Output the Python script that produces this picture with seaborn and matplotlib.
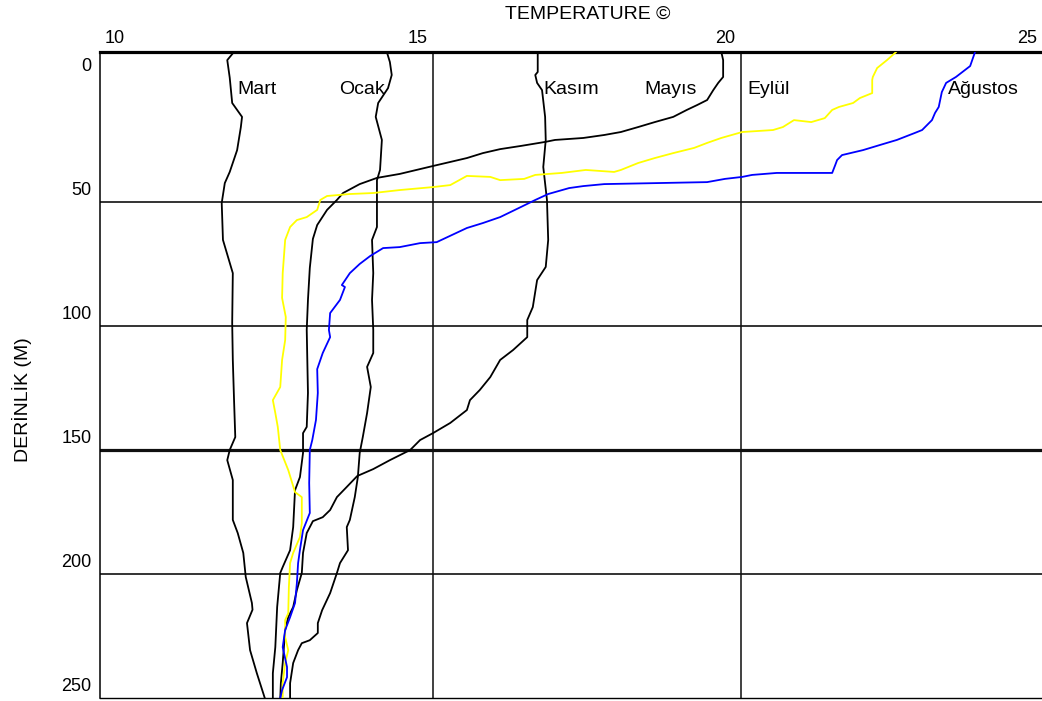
import numpy as np
import pandas as pd
import matplotlib
matplotlib.use("Agg")
import matplotlib.pyplot as plt
import matplotlib.transforms as mtransforms
import seaborn as sns

# ---------------- data (temperature °C, depth m) ----------------
mart_t = [11.77, 11.66, 11.70, 11.74, 11.90, 11.88, 11.82, 11.70, 11.62, 11.57, 11.59, 11.75, 11.74,
          11.75, 11.77, 11.79, 11.70, 11.66, 11.75, 11.75, 11.83, 11.92, 11.96, 12.06, 12.07, 11.98,
          12.03, 12.14, 12.27]
mart_d = [-10.4, -7.1, 0.0, 10.2, 15.8, 20.0, 29.2, 38.0, 42.5, 50.5, 65.4, 78.8, 98.9,
          113.8, 129.9, 144.9, 150.1, 154.2, 162.2, 178.3, 183.6, 191.6, 201.3, 211.8, 214.5, 219.9,
          230.8, 240.1, 250.2]

ocak_t = [14.25, 14.30, 14.33, 14.27, 14.11, 14.07, 14.17, 14.14, 14.09, 14.09, 14.01, 14.03, 14.01,
          14.03, 14.03, 13.93, 13.99, 13.93, 13.86, 13.81, 13.78, 13.73, 13.65, 13.60, 13.62, 13.49,
          13.44, 13.33, 13.20, 13.13, 13.13, 13.00, 12.87, 12.81, 12.73, 12.68, 12.68]
ocak_d = [-10.4, -6.3, -1.1, 4.2, 10.2, 15.8, 25.1, 37.2, 41.3, 60.2, 65.4, 78.8, 89.6,
          101.7, 111.0, 116.6, 124.7, 135.2, 144.9, 151.3, 161.0, 169.1, 178.3, 181.2, 190.5, 195.7,
          199.7, 207.8, 214.7, 219.9, 223.9, 226.8, 228.0, 230.8, 236.0, 244.1, 250.2]

kasim_t = [16.70, 16.70, 16.66, 16.69, 16.77, 16.82, 16.83, 16.79, 16.85, 16.87, 16.83, 16.69, 16.62,
           16.53, 16.53, 16.30, 16.09, 15.93, 15.76, 15.60, 15.55, 15.28, 15.00, 14.79, 14.63, 14.30,
           14.03, 13.77, 13.60, 13.44, 13.33, 13.21, 13.05, 12.95, 12.89, 12.87, 12.79, 12.73, 12.65,
           12.60, 12.56, 12.53, 12.52]
kasim_d = [-10.4, -2.3, -1.1, 2.1, 5.0, 15.8, 25.1, 36.0, 49.3, 65.4, 76.3, 81.6, 92.5,
           97.7, 104.6, 109.8, 113.8, 120.7, 125.9, 130.0, 134.0, 139.2, 143.3, 146.1, 150.1, 154.2,
           157.8, 160.6, 165.0, 169.1, 174.3, 177.2, 178.8, 183.6, 191.6, 199.7, 206.6, 213.4, 217.5,
           222.7, 236.0, 244.1, 250.2]

mayis_t = [19.68, 19.71, 19.71, 19.63, 19.55, 19.45, 19.29, 19.12, 18.90, 18.60, 18.33, 18.05, 17.78,
           17.44, 16.98, 16.82, 16.43, 16.09, 15.81, 15.55, 15.00, 14.46, 14.09, 13.81, 13.54, 13.44,
           13.28, 13.12, 13.05, 13.00, 12.97, 12.95, 12.97, 12.95, 12.89, 12.89, 12.84, 12.76, 12.73,
           12.68, 12.56, 12.52, 12.47, 12.44, 12.40, 12.40]
mayis_d = [-10.4, -7.1, -0.3, 2.1, 5.0, 9.0, 11.0, 13.0, 15.8, 17.9, 19.9, 21.9, 23.1,
           24.3, 25.1, 25.9, 27.5, 28.8, 30.4, 32.4, 35.6, 38.8, 40.4, 42.9, 46.5, 49.3,
           53.3, 59.4, 65.0, 76.7, 89.6, 101.7, 127.1, 140.8, 143.3, 151.3, 161.0, 166.3, 181.2,
           190.5, 197.3, 199.7, 213.4, 229.6, 240.1, 250.2]

eylul_t = [22.52, 22.37, 22.21, 22.14, 22.13, 22.13, 21.93, 21.82, 21.59, 21.48, 21.36, 21.14, 20.86,
           20.68, 20.52, 20.02, 19.68, 19.45, 19.24, 18.90, 18.60, 18.33, 18.05, 17.94, 17.48, 17.09,
           16.66, 16.48, 16.09, 15.93, 15.55, 15.28, 15.00, 14.46, 14.03, 13.65, 13.28, 13.17, 13.12,
           12.95, 12.79, 12.68, 12.60, 12.56, 12.55, 12.61, 12.60, 12.55, 12.52, 12.40, 12.44, 12.48,
           12.52, 12.65, 12.76, 12.87, 12.87, 12.84, 12.73, 12.68, 12.66, 12.65, 12.60, 12.60, 12.65,
           12.60, 12.56, 12.56]
eylul_d = [-10.4, -7.1, -3.9, -0.3, 0.9, 6.2, 8.2, 10.2, 11.8, 13.0, 16.3, 17.9, 17.1,
           19.9, 21.1, 21.9, 24.3, 26.3, 28.3, 30.4, 32.4, 34.4, 37.2, 38.0, 37.2, 38.4,
           39.2, 40.8, 41.3, 40.0, 39.6, 43.3, 44.1, 45.3, 46.5, 46.9, 47.7, 49.3, 53.3,
           56.2, 57.4, 60.2, 65.4, 78.8, 88.8, 96.5, 105.8, 113.8, 124.7, 130.0, 135.2, 140.8,
           150.1, 158.2, 167.1, 169.1, 179.6, 185.2, 191.6, 195.7, 205.4, 215.9, 218.7, 225.6, 230.8,
           236.0, 244.1, 250.2]

agustos_t = [23.80, 23.72, 23.49, 23.33, 23.26, 23.21, 23.15, 23.10, 22.94, 22.82, 22.53, 22.26, 21.98,
             21.64, 21.56, 21.53, 21.48, 21.14, 20.58, 20.18, 20.02, 19.74, 19.45, 18.62, 17.78, 17.44,
             17.21, 16.87, 16.66, 16.43, 16.09, 15.81, 15.55, 15.06, 14.79, 14.46, 14.19, 13.98, 13.81,
             13.65, 13.52, 13.57, 13.49, 13.33, 13.31, 13.33, 13.21, 13.12, 13.13, 13.10, 13.04, 13.00,
             12.99, 13.00, 12.89, 12.84, 12.81, 12.79, 12.76, 12.68, 12.60, 12.56, 12.63, 12.63, 12.55,
             12.52]
agustos_d = [-10.4, -4.7, -0.3, 2.1, 5.8, 11.8, 14.2, 17.1, 21.1, 22.3, 25.1, 27.1, 29.2,
             31.2, 33.2, 35.2, 38.4, 38.4, 38.4, 39.2, 40.0, 40.8, 42.1, 42.5, 42.9, 43.7,
             44.5, 46.9, 49.3, 52.1, 56.2, 58.6, 60.6, 66.3, 66.7, 68.3, 68.7, 71.9, 75.1,
             78.8, 83.6, 84.4, 89.6, 94.9, 101.7, 104.6, 111.0, 117.5, 127.1, 138.0, 146.1, 150.1,
             163.4, 175.5, 182.4, 190.4, 195.7, 203.8, 211.8, 217.5, 222.7, 229.6, 237.6, 241.7, 246.9,
             250.2]

months = ["Mart", "Ocak", "Kasım", "Mayıs", "Eylül", "Ağustos"]
colors = ["black", "black", "black", "black", "#FFFF00", "#0000FF"]
label_t = [11.82, 13.47, 16.79, 18.43, 20.10, 23.36]
label_d = 4.6

x_ticks = [10, 15, 20, 25]
y_ticks = [0, 50, 100, 150, 200, 250]
grid_t = [15, 20]
grid_d = [50, 100, 150, 200]
grid_d_lw = [1.2, 1.2, 2.3, 1.2]
x_label_shift_px = [0, -5, -6, -12]

series = [(mart_t, mart_d), (ocak_t, ocak_d), (kasim_t, kasim_d),
          (mayis_t, mayis_d), (eylul_t, eylul_d), (agustos_t, agustos_d)]
frames = []
for name, (t, d) in zip(months, series):
    frames.append(pd.DataFrame({"T": t, "D": d, "month": name}))
df = pd.concat(frames, ignore_index=True)

# ---------------- plot ----------------
sns.set_style("white")
plt.rcParams["font.family"] = ["Liberation Sans", "DejaVu Sans"]
plt.rcParams["text.color"] = "black"
plt.rcParams["axes.labelcolor"] = "black"
plt.rcParams["xtick.color"] = "black"
plt.rcParams["ytick.color"] = "black"

fig = plt.figure(figsize=(10.42, 7.01), dpi=100)
ax = fig.add_axes([100 / 1042, 3 / 701, 949 / 1042, 646 / 701])

for t in grid_t:
    ax.axvline(t, color="#202020", lw=1.2, zorder=1)
for d, lw in zip(grid_d, grid_d_lw):
    ax.axhline(d, color="#101010", lw=lw, zorder=1)

sns.lineplot(data=df, x="T", y="D", hue="month", hue_order=months,
             palette=dict(zip(months, colors)), sort=False, estimator=None,
             legend=False, linewidth=1.3, ax=ax, zorder=3)

for name, t in zip(months, label_t):
    ax.text(t, label_d, name, ha="left", va="center", fontsize=14, color="black", zorder=4)

ax.set_xlim(9.594, 25.0)
ax.set_ylim(250.1, -10.36)

ax.xaxis.tick_top()
ax.set_xticks(x_ticks)
ax.set_xticklabels([str(v) for v in x_ticks])
ax.set_yticks(y_ticks)
ax.set_yticklabels([str(v) for v in y_ticks])
ax.tick_params(axis="x", length=0, pad=3.5, labelsize=13, colors="black")
ax.tick_params(axis="y", length=0, pad=6, labelsize=13, colors="black")

for lab, sh in zip(ax.get_xticklabels(), x_label_shift_px):
    lab.set_horizontalalignment("right")
    lab.set_transform(lab.get_transform() +
                      mtransforms.ScaledTranslation(sh / 100, 0, fig.dpi_scale_trans))
off_y = mtransforms.ScaledTranslation(0, 13 / 100, fig.dpi_scale_trans)
for lab in ax.get_yticklabels():
    lab.set_transform(lab.get_transform() + off_y)

ax.xaxis.set_label_position("top")
ax.set_xlabel("TEMPERATURE ©", fontsize=14, color="black")
ax.xaxis.set_label_coords((588 - 100) / 949, 1 + 38 / 646)
ax.xaxis.label.set_verticalalignment("center")
ax.set_ylabel("DERİNLİK (M)", fontsize=14, color="black")
ax.yaxis.set_label_coords((22 - 100) / 949, (698 - 400) / 646)
ax.yaxis.label.set_verticalalignment("center")

for side in ["left", "bottom", "top", "right"]:
    ax.spines[side].set_color("black")
ax.spines["top"].set_linewidth(2.3)
ax.spines["left"].set_linewidth(1.1)
ax.spines["bottom"].set_linewidth(1.0)
ax.spines["right"].set_visible(False)
ax.grid(False)

fig.savefig("out.png", dpi=100)
